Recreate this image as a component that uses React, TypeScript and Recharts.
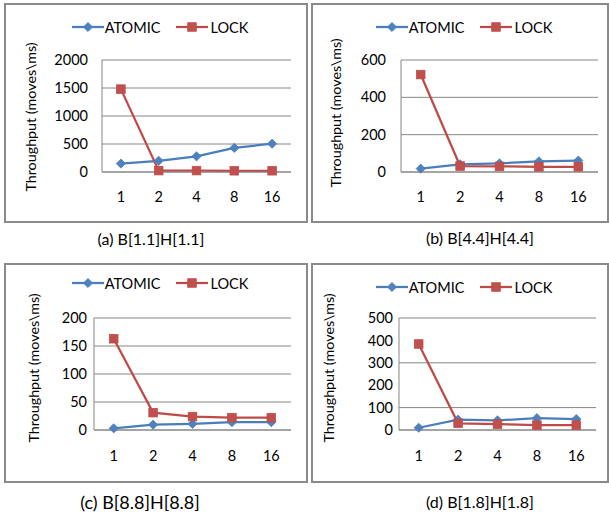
import React from 'react';
import { LineChart, Line, XAxis, YAxis, CartesianGrid, Legend } from 'recharts';

// thread counts on the x axis (same for every panel)
const threads = ['1', '2', '4', '8', '16'];

// (a) B[1.1]H[1.1]
const atomicA = [150, 200, 280, 430, 505];
const lockA = [1480, 25, 25, 22, 22];
const ticksA = [0, 500, 1000, 1500, 2000];

// (b) B[4.4]H[4.4]
const atomicB = [18, 41, 46, 57, 61];
const lockB = [522, 32, 30, 28, 28];
const ticksB = [0, 200, 400, 600];

// (c) B[8.8]H[8.8]
const atomicC = [3, 9.5, 11, 14, 14];
const lockC = [163, 31, 24, 22, 22];
const ticksC = [0, 50, 100, 150, 200];

// (d) B[1.8]H[1.8]
const atomicD = [10, 46, 43, 53, 49];
const lockD = [384, 30, 26, 22, 22];
const ticksD = [0, 100, 200, 300, 400, 500];

const captions = ['(a) B[1.1]H[1.1]', '(b) B[4.4]H[4.4]', '(c) B[8.8]H[8.8]', '(d) B[1.8]H[1.8]'];
const seriesNames = ['ATOMIC', 'LOCK'];
const yTitle = 'Throughput (moves\\ms)';

const FONT = 'Lato, "Open Sans", sans-serif';
const BLUE = '#4a7ebb';
const BLUE_FILL = '#4f81bd';
const RED = '#be4b48';
const RED_FILL = '#c0504d';
const GRID = '#868686';
const FRAME = '#8a8a8a';
const TXT = 14.5;

const makeRows = (atomic: number[], lock: number[]) =>
  threads.map((t, i) => ({ t, atomic: atomic[i], lock: lock[i] }));

const Diamond = (props: any) => {
  const { cx, cy } = props;
  if (cx == null || cy == null) return null;
  const r = 4.6;
  return (
    <path
      d={`M${cx},${cy - r}L${cx + r},${cy}L${cx},${cy + r}L${cx - r},${cy}Z`}
      fill={BLUE_FILL}
      stroke={BLUE}
      strokeWidth={0.75}
    />
  );
};

const Square = (props: any) => {
  const { cx, cy } = props;
  if (cx == null || cy == null) return null;
  const s = 8.6;
  return <rect x={cx - s / 2} y={cy - s / 2} width={s} height={s} fill={RED_FILL} stroke={RED} strokeWidth={0.75} />;
};

const LegendKey = () => (
  <div
    style={{
      display: 'flex',
      justifyContent: 'center',
      alignItems: 'center',
      fontFamily: FONT,
      fontSize: TXT,
      color: '#000',
      paddingLeft: 8,
      height: 18,
    }}
  >
    <svg width={32} height={12}>
      <line x1={0} y1={6} x2={32} y2={6} stroke={BLUE} strokeWidth={2.25} />
      <Diamond cx={16} cy={6} />
    </svg>
    <span style={{ marginLeft: 1, marginRight: 16 }}>{seriesNames[0]}</span>
    <svg width={32} height={12}>
      <line x1={0} y1={6} x2={32} y2={6} stroke={RED} strokeWidth={2.25} />
      <Square cx={16} cy={6} />
    </svg>
    <span style={{ marginLeft: 2 }}>{seriesNames[1]}</span>
  </div>
);

interface PanelCfg {
  left: number;
  top: number;
  width: number;
  height: number;
  plot: { left: number; right: number; top: number; bottom: number };
  yGap: number;
  xGap: number;
  titleX: number;
  titleDy: number;
  legendY: number;
  caption: { x: number; y: number; size: number };
}

const layout: PanelCfg[] = [
  { left: 4, top: 3, width: 304, height: 220, plot: { left: 98, right: 17, top: 57, bottom: 51 }, yGap: 14, xGap: 20, titleX: 26, titleDy: 1, legendY: 24, caption: { x: 151, y: 239, size: 16 } },
  { left: 311, top: 3, width: 298, height: 220, plot: { left: 90, right: 11, top: 57, bottom: 51 }, yGap: 15, xGap: 20, titleX: 24, titleDy: -3, legendY: 24, caption: { x: 480, y: 238, size: 16 } },
  { left: 4, top: 263, width: 304, height: 220, plot: { left: 90, right: 17, top: 55, bottom: 53 }, yGap: 7, xGap: 21, titleX: 29, titleDy: -6, legendY: 20, caption: { x: 140, y: 502, size: 18 } },
  { left: 311, top: 263, width: 298, height: 220, plot: { left: 88, right: 13, top: 55, bottom: 53 }, yGap: 6, xGap: 21, titleX: 17, titleDy: -6, legendY: 24, caption: { x: 480, y: 502, size: 16 } },
];

const panelData = [
  { rows: makeRows(atomicA, lockA), ticks: ticksA },
  { rows: makeRows(atomicB, lockB), ticks: ticksB },
  { rows: makeRows(atomicC, lockC), ticks: ticksC },
  { rows: makeRows(atomicD, lockD), ticks: ticksD },
];

const Panel = ({ cfg, rows, ticks, caption }: { cfg: PanelCfg; rows: any[]; ticks: number[]; caption: string }) => {
  const { plot } = cfg;
  const plotW = cfg.width - plot.left - plot.right;
  const plotH = cfg.height - plot.top - plot.bottom;
  const pad = plotW / 10;
  const tickStyle = { fill: '#000', fontSize: TXT, fontFamily: FONT };

  return (
    <>
      <div
        style={{
          position: 'absolute',
          left: cfg.left,
          top: cfg.top,
          width: cfg.width,
          height: cfg.height,
          boxSizing: 'border-box',
          border: `2px solid ${FRAME}`,
        }}
      />
      <div style={{ position: 'absolute', left: cfg.left, top: cfg.top }}>
        <LineChart
          width={cfg.width}
          height={cfg.height}
          data={rows}
          margin={{ top: plot.top, right: plot.right, bottom: 0, left: 0 }}
        >
          <CartesianGrid vertical={false} stroke={GRID} strokeWidth={1} />
          <XAxis
            dataKey="t"
            height={plot.bottom}
            padding={{ left: pad, right: pad }}
            axisLine={{ stroke: GRID }}
            tickLine={false}
            tickSize={0}
            tickMargin={cfg.xGap}
            tick={tickStyle}
            interval={0}
          />
          <YAxis
            width={plot.left}
            domain={[ticks[0], ticks[ticks.length - 1]]}
            ticks={ticks}
            axisLine={{ stroke: GRID }}
            tickLine={false}
            tickSize={0}
            tickMargin={cfg.yGap}
            tick={tickStyle}
            label={{
              content: () => {
                const x = cfg.titleX;
                const y = plot.top + plotH / 2 + cfg.titleDy;
                return (
                  <text
                    x={x}
                    y={y}
                    transform={`rotate(-90 ${x} ${y})`}
                    textAnchor="middle"
                    dominantBaseline="central"
                    fontFamily={FONT}
                    fontSize={14.3}
                    fill="#000"
                  >
                    {yTitle}
                  </text>
                );
              },
            }}
          />
          <Legend
            layout="horizontal"
            verticalAlign="middle"
            align="center"
            content={<LegendKey />}
            wrapperStyle={{ top: cfg.legendY - 9, left: 0, width: cfg.width }}
          />
          <Line
            dataKey="atomic"
            name={seriesNames[0]}
            stroke={BLUE}
            strokeWidth={2.25}
            dot={<Diamond />}
            activeDot={false}
            isAnimationActive={false}
          />
          <Line
            dataKey="lock"
            name={seriesNames[1]}
            stroke={RED}
            strokeWidth={2.25}
            dot={<Square />}
            activeDot={false}
            isAnimationActive={false}
          />
        </LineChart>
      </div>
      <div
        style={{
          position: 'absolute',
          left: cfg.caption.x - 100,
          top: cfg.caption.y - 12,
          width: 200,
          height: 24,
          lineHeight: '24px',
          textAlign: 'center',
          fontFamily: FONT,
          fontSize: cfg.caption.size,
          color: '#000',
          whiteSpace: 'nowrap',
        }}
      >
        {caption}
      </div>
    </>
  );
};

export default function App() {
  return (
    <div style={{ position: 'absolute', left: 0, top: 0, width: 609, height: 515, background: '#fff', overflow: 'hidden' }}>
      {layout.map((cfg, i) => (
        <Panel key={i} cfg={cfg} rows={panelData[i].rows} ticks={panelData[i].ticks} caption={captions[i]} />
      ))}
    </div>
  );
}
